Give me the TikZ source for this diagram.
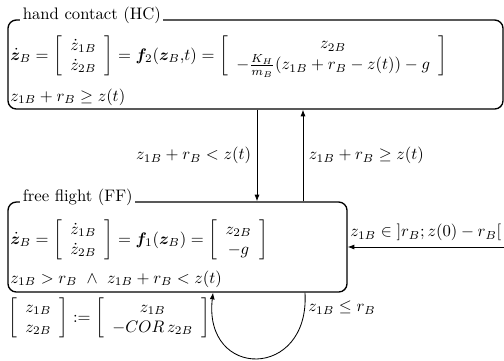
\documentclass[tikz,border=0pt]{standalone}
\usepackage{amsmath, amssymb, bm}
\usepackage{tikz}
\usetikzlibrary{arrows.meta, positioning, calc, fit}
\tikzset{
  mode/.style={draw, line width=0.8pt, rounded corners=5pt, inner sep=0pt},
  modetitle/.style={fill=white, inner sep=1.5pt, anchor=base west},
  eqn/.style={inner sep=0pt, anchor=west},
  trans/.style={-{Latex[length=4pt, width=3pt]}, line width=0.5pt},
}

\begin{document}
\begin{tikzpicture}[x=0.6pt, y=-0.6pt]
  \useasboundingbox (0,0) rectangle (504,360);

  % the two modes
  \coordinate (hcnw) at (8,20);
  \coordinate (hcse) at (503,109);
  \coordinate (ffnw) at (8,202);
  \coordinate (ffse) at (347,292);
  \node[mode, fit=(hcnw)(hcse)] (hc) {};
  \node[mode, fit=(ffnw)(ffse)] (ff) {};
  \node[modetitle] (hctitle) at (20,19) {hand contact (HC)};
  \node[modetitle] (fftitle) at (20,201) {free flight (FF)};

  % flows and invariants
  \node[eqn] (hcflow) at (10,56) {$\dot{\bm{z}}_B=\left[\begin{array}{c}\dot{z}_{1B}\\ \dot{z}_{2B}\end{array}\right]=\bm{f}_2(\bm{z}_B{,}t)=\left[\begin{array}{c}z_{2B}\\ -\frac{K_H}{m_B}(z_{1B}+r_B-z(t))-g\end{array}\right]$};
  \node[eqn] (hcinv) at (10,97) {$z_{1B}+r_B\geq z(t)$};
  \node[eqn] (ffflow) at (10,240) {$\dot{\bm{z}}_B=\left[\begin{array}{c}\dot{z}_{1B}\\ \dot{z}_{2B}\end{array}\right]=\bm{f}_1(\bm{z}_B)=\left[\begin{array}{c}z_{2B}\\ -g\end{array}\right]$};
  \node[eqn] (ffinv) at (10,279) {$z_{1B}>r_B\ \wedge\ z_{1B}+r_B<z(t)$};

  % switching between the modes
  \coordinate (down) at (257,0);
  \coordinate (up) at (303,0);
  \draw[trans] (hc.south -| down) -- node[left] {$z_{1B}+r_B<z(t)$} (ff.north -| down);
  \draw[trans] (ff.north -| up) -- node[right] {$z_{1B}+r_B\geq z(t)$} (hc.south -| up);

  % initial state
  \coordinate (init) at (504,247);
  \draw[trans] (init) -- node[above] {$z_{1B}\in\mathopen]r_B;z(0)-r_B\mathclose[$} (ff.east |- init);

  % bounce on the floor
  \coordinate (loopout) at (305,0);
  \coordinate (loopin) at (213,0);
  \draw[trans] (ff.south -| loopout) .. controls (310,380) and (203,380) .. node[pos=0.06, right, inner sep=2pt] {$z_{1B}\leq r_B$} (ff.south -| loopin);
  \node[eqn] (reset) at (8,318) {$\left[\begin{array}{c}z_{1B}\\ z_{2B}\end{array}\right]:=\left[\begin{array}{c}z_{1B}\\ -COR\,z_{2B}\end{array}\right]$};
\end{tikzpicture}
\end{document}
